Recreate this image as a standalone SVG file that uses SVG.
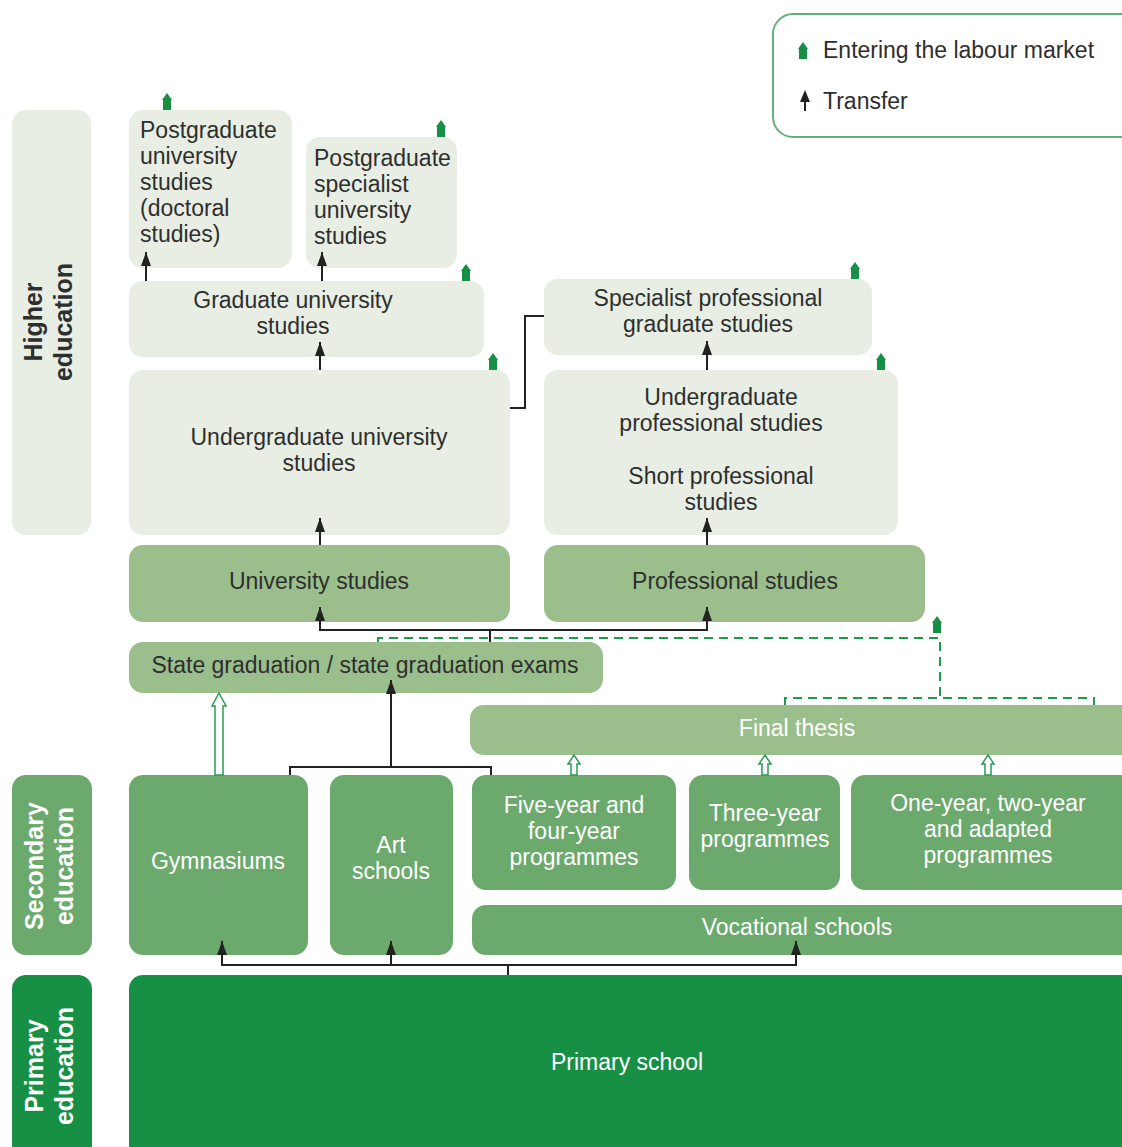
<svg xmlns="http://www.w3.org/2000/svg" width="1122" height="1147" viewBox="0 0 1122 1147">
<style>
text{font-family:"Liberation Sans",Arial,sans-serif;font-size:23px;fill:#2e2e2e}
.c{text-anchor:middle}
.w{fill:#fff}
.side{font-size:25px;font-weight:bold;text-anchor:middle}
.light{fill:#e8eee3}
.mid{fill:#9abf8c}
.sec{fill:#6ca96d}
.pri{fill:#179046}
.blk{stroke:#222;stroke-width:2;fill:none}
.dash{stroke:#1e9a48;stroke-width:2;fill:none;stroke-dasharray:9 6}
.hollow{fill:#fff;stroke:#2a9a52;stroke-width:1.5}
.lm{fill:#179046}
</style>
<defs>
<marker id="ah" markerUnits="userSpaceOnUse" viewBox="0 0 14 10" markerWidth="14" markerHeight="10" refX="14" refY="5" orient="auto">
<path d="M0,0 L14,5 L0,10 z" fill="#222"/>
</marker>
<path id="lab" d="M0,-9 L5,-2 L4,-2 L4,8 L-4,8 L-4,-2 L-5,-2 Z"/>
</defs>

<g id="legend">
<rect x="773" y="14" width="370" height="123" rx="20" fill="#fff" stroke="#5fb27a" stroke-width="2"/>
<use href="#lab" class="lm" x="803" y="51"/>
<text x="823" y="58">Entering the labour market</text>
<path d="M805,111 L805,94" stroke="#222" stroke-width="2"/>
<path d="M800,102 L805,90 L810,102 z" fill="#222"/>
<text x="823" y="109">Transfer</text>
</g>

<g id="label-higher">
<rect x="12" y="110" width="79" height="425" rx="14" class="light"/>
<text class="side" transform="translate(52,322) rotate(-90)"><tspan x="0" y="-10">Higher</tspan><tspan x="0" y="20">education</tspan></text>
</g>
<g id="label-secondary">
<rect x="12" y="775" width="80" height="180" rx="14" class="sec"/>
<text class="side w" transform="translate(52,866) rotate(-90)"><tspan x="0" y="-9">Secondary</tspan><tspan x="0" y="21">education</tspan></text>
</g>
<g id="label-primary">
<rect x="12" y="975" width="80" height="190" rx="14" class="pri"/>
<text class="side w" transform="translate(52,1066) rotate(-90)"><tspan x="0" y="-9">Primary</tspan><tspan x="0" y="21">education</tspan></text>
</g>

<g id="postgrad-doctoral">
<rect x="129" y="110" width="163" height="158" rx="14" class="light"/>
<text><tspan x="140" y="138">Postgraduate</tspan><tspan x="140" y="164">university</tspan><tspan x="140" y="190">studies</tspan><tspan x="140" y="216">(doctoral</tspan><tspan x="140" y="242">studies)</tspan></text>
</g>
<g id="postgrad-specialist">
<rect x="306" y="137" width="151" height="131" rx="14" class="light"/>
<text><tspan x="314" y="166">Postgraduate</tspan><tspan x="314" y="192">specialist</tspan><tspan x="314" y="218">university</tspan><tspan x="314" y="244">studies</tspan></text>
</g>
<g id="graduate-university">
<rect x="129" y="281" width="355" height="76" rx="14" class="light"/>
<text class="c"><tspan x="293" y="308">Graduate university</tspan><tspan x="293" y="334">studies</tspan></text>
</g>
<g id="specialist-professional">
<rect x="544" y="279" width="328" height="76" rx="14" class="light"/>
<text class="c"><tspan x="708" y="306">Specialist professional</tspan><tspan x="708" y="332">graduate studies</tspan></text>
</g>
<g id="undergraduate-university">
<rect x="129" y="370" width="381" height="165" rx="14" class="light"/>
<text class="c"><tspan x="319" y="445">Undergraduate university</tspan><tspan x="319" y="471">studies</tspan></text>
</g>
<g id="undergraduate-professional">
<rect x="544" y="370" width="354" height="165" rx="14" class="light"/>
<text class="c"><tspan x="721" y="405">Undergraduate</tspan><tspan x="721" y="431">professional studies</tspan><tspan x="721" y="484">Short professional</tspan><tspan x="721" y="510">studies</tspan></text>
</g>
<g id="university-studies">
<rect x="129" y="545" width="381" height="77" rx="14" class="mid"/>
<text class="c" x="319" y="589">University studies</text>
</g>
<g id="professional-studies">
<rect x="544" y="545" width="381" height="77" rx="14" class="mid"/>
<text class="c" x="735" y="589">Professional studies</text>
</g>
<g id="state-graduation">
<rect x="129" y="642" width="474" height="51" rx="14" class="mid"/>
<text class="c" x="365" y="673">State graduation / state graduation exams</text>
</g>
<g id="final-thesis">
<rect x="470" y="705" width="665" height="50" rx="14" class="mid"/>
<text class="c w" x="797" y="736">Final thesis</text>
</g>
<g id="gymnasiums">
<rect x="129" y="775" width="179" height="180" rx="14" class="sec"/>
<text class="c w" x="218" y="869">Gymnasiums</text>
</g>
<g id="art-schools">
<rect x="330" y="775" width="123" height="180" rx="14" class="sec"/>
<text class="c w"><tspan x="391" y="853">Art</tspan><tspan x="391" y="879">schools</tspan></text>
</g>
<g id="five-four-year">
<rect x="472" y="775" width="204" height="115" rx="14" class="sec"/>
<text class="c w"><tspan x="574" y="813">Five-year and</tspan><tspan x="574" y="839">four-year</tspan><tspan x="574" y="865">programmes</tspan></text>
</g>
<g id="three-year">
<rect x="689" y="775" width="151" height="115" rx="14" class="sec"/>
<text class="c w"><tspan x="765" y="821">Three-year</tspan><tspan x="765" y="847">programmes</tspan></text>
</g>
<g id="one-two-year">
<rect x="851" y="775" width="285" height="115" rx="14" class="sec"/>
<text class="c w"><tspan x="988" y="811">One-year, two-year</tspan><tspan x="988" y="837">and adapted</tspan><tspan x="988" y="863">programmes</tspan></text>
</g>
<g id="vocational-schools">
<rect x="472" y="905" width="664" height="50" rx="14" class="sec"/>
<text class="c w" x="797" y="935">Vocational schools</text>
</g>
<g id="primary-school">
<rect x="129" y="975" width="1007" height="190" rx="14" class="pri"/>
<text class="c w" x="627" y="1070">Primary school</text>
</g>

<g id="connectors">
<path class="blk" d="M146,281 L146,252" marker-end="url(#ah)"/>
<path class="blk" d="M322,281 L322,252" marker-end="url(#ah)"/>
<path class="blk" d="M320,370 L320,342" marker-end="url(#ah)"/>
<path class="blk" d="M707,370 L707,341" marker-end="url(#ah)"/>
<path class="blk" d="M510,408 L525,408 L525,316 L544,316"/>
<path class="blk" d="M320,545 L320,518" marker-end="url(#ah)"/>
<path class="blk" d="M707,545 L707,518" marker-end="url(#ah)"/>
<path class="blk" d="M320,630 L707,630 M490,630 L490,642"/>
<path class="blk" d="M320,631 L320,607" marker-end="url(#ah)"/>
<path class="blk" d="M707,631 L707,607" marker-end="url(#ah)"/>
<path class="dash" d="M378,642 L378,638 L940,638 L940,698"/>
<path class="dash" d="M785,705 L785,698 L1094,698 L1094,705"/>
<path class="blk" d="M290,775 L290,767 L491,767 L491,775"/>
<path class="blk" d="M391,768 L391,680" marker-end="url(#ah)"/>
<path class="hollow" d="M215,775 L215,706 L212,706 L219,693 L226,706 L223,706 L223,775 Z"/>
<path class="hollow" d="M571,775 L571,764 L568,764 L574,755 L580,764 L577,764 L577,775 Z"/>
<path class="hollow" d="M762,775 L762,764 L759,764 L765,755 L771,764 L768,764 L768,775 Z"/>
<path class="hollow" d="M985,775 L985,764 L982,764 L988,755 L994,764 L991,764 L991,775 Z"/>
<path class="blk" d="M508,975 L508,965 M222,965 L796,965"/>
<path class="blk" d="M222,966 L222,941" marker-end="url(#ah)"/>
<path class="blk" d="M391,966 L391,941" marker-end="url(#ah)"/>
<path class="blk" d="M796,966 L796,941" marker-end="url(#ah)"/>
<use href="#lab" class="lm" x="167" y="102"/>
<use href="#lab" class="lm" x="441" y="129"/>
<use href="#lab" class="lm" x="466" y="273"/>
<use href="#lab" class="lm" x="855" y="271"/>
<use href="#lab" class="lm" x="493" y="362"/>
<use href="#lab" class="lm" x="881" y="362"/>
<use href="#lab" class="lm" x="937" y="625"/>
</g>
</svg>
